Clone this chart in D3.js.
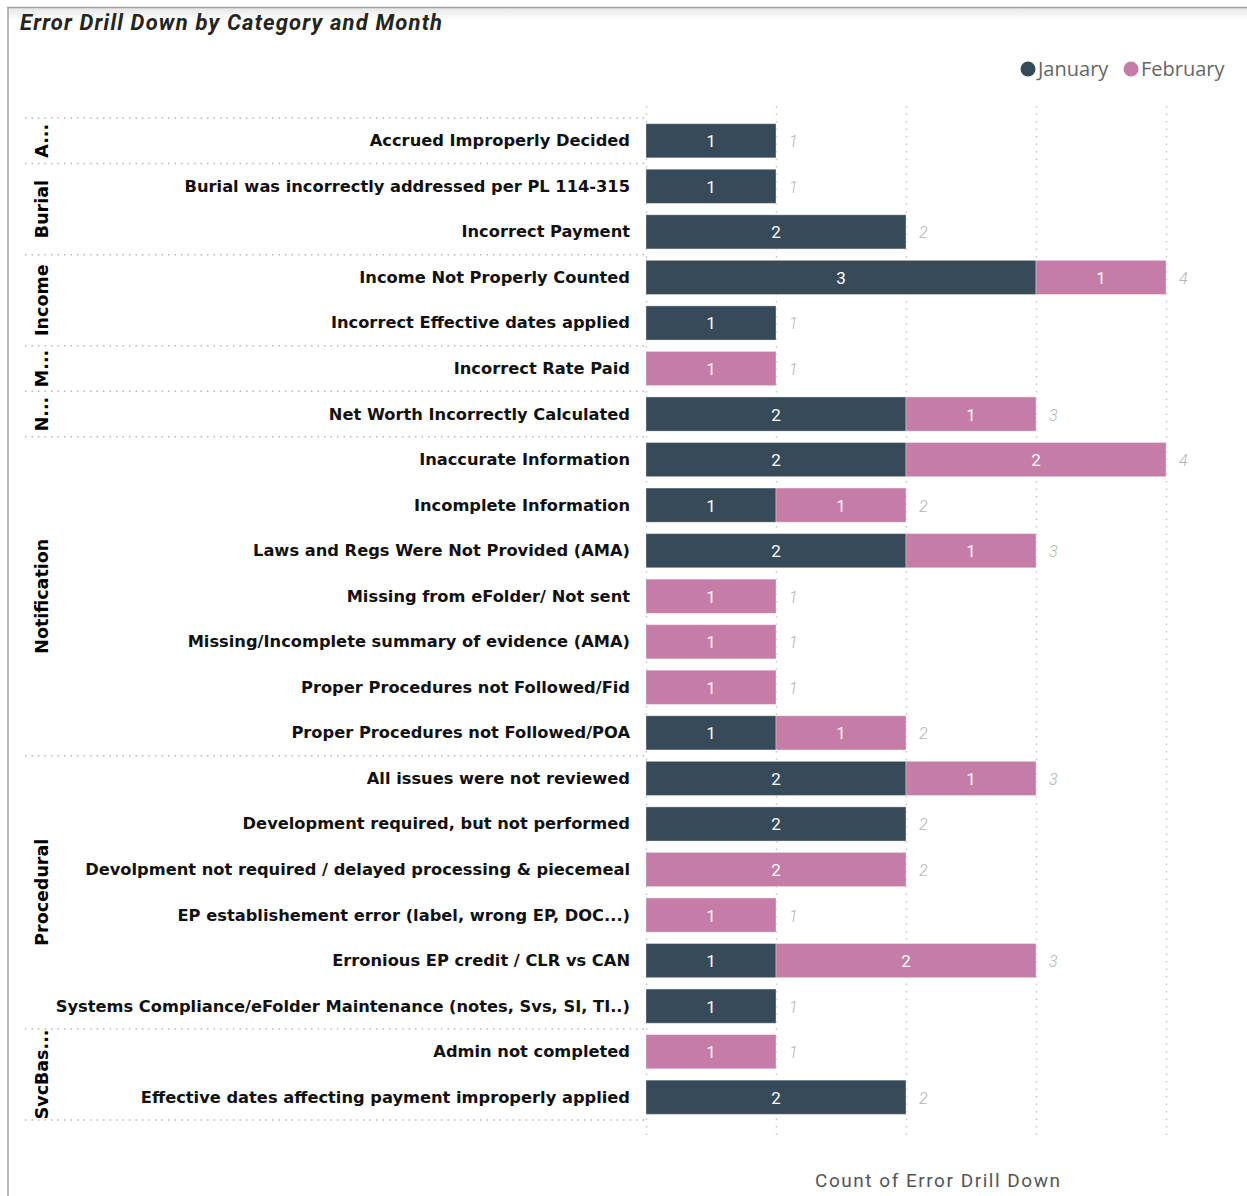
<!DOCTYPE html>
<html><head><meta charset="utf-8">
<script src="https://cdnjs.cloudflare.com/ajax/libs/d3/7.8.5/d3.min.js"></script>
<style>body{margin:0;background:#fff;} svg{display:block;}</style>
</head><body>
<script>
const categories = ["Accrued Improperly Decided","Burial was incorrectly addressed per PL 114-315","Incorrect Payment","Income Not Properly Counted","Incorrect Effective dates applied","Incorrect Rate Paid","Net Worth Incorrectly Calculated","Inaccurate Information","Incomplete Information","Laws and Regs Were Not Provided (AMA)","Missing from eFolder/ Not sent","Missing/Incomplete summary of evidence (AMA)","Proper Procedures not Followed/Fid","Proper Procedures not Followed/POA","All issues were not reviewed","Development required, but not performed","Devolpment not required / delayed processing & piecemeal","EP establishement error (label, wrong EP, DOC...)","Erronious EP credit / CLR vs CAN","Systems Compliance/eFolder Maintenance (notes, Svs, SI, TI..)","Admin not completed","Effective dates affecting payment improperly applied"];
const groups = ["A...","Burial","Burial","Income","Income","M...","N...","Notification","Notification","Notification","Notification","Notification","Notification","Notification","Procedural","Procedural","Procedural","Procedural","Procedural","Procedural","SvcBas...","SvcBas..."];
const january = [1,1,2,3,1,0,2,2,1,2,0,0,0,1,2,2,0,0,1,1,0,2];
const february = [0,0,0,1,0,1,1,2,1,1,1,1,1,1,1,0,2,1,2,0,1,0];
const seriesNames = ["January","February"];
const xTicks = [0,1,2,3,4];
const colors = {January:"#374A5A", February:"#C57CA6"};

const W=1247,H=1196;
const svg=d3.select("body").append("svg").attr("width",W).attr("height",H);

// frame
const defs=svg.append("defs");
const lg=defs.append("linearGradient").attr("id","sh").attr("x1",0).attr("x2",0).attr("y1",0).attr("y2",1);
lg.append("stop").attr("offset","0").attr("stop-color","#e6e6e6");
lg.append("stop").attr("offset","1").attr("stop-color","#fff");
svg.append("rect").attr("x",8).attr("y",8).attr("width",W-8).attr("height",12).attr("fill","url(#sh)");
svg.append("line").attr("x1",7).attr("x2",W).attr("y1",7.5).attr("y2",7.5).attr("stroke","#a0a0a0").attr("stroke-width",1.5);
svg.append("line").attr("x1",8).attr("x2",8).attr("y1",7).attr("y2",H).attr("stroke","#a0a0a0").attr("stroke-width",1.5);

svg.append("text").attr("x",20).attr("y",30).text("Error Drill Down by Category and Month")
  .attr("font-family","Roboto").attr("font-style","italic").attr("font-weight","bold").attr("font-size",22)
  .attr("textLength",422).attr("lengthAdjust","spacing").attr("fill","#252423");

// legend
const leg=[{n:"January",cx:1028},{n:"February",cx:1131}];
leg.forEach(l=>{
  svg.append("circle").attr("cx",l.cx).attr("cy",69).attr("r",7.5).attr("fill",colors[l.n]);
  svg.append("text").attr("x",l.cx+10).attr("y",76).text(l.n).attr("font-family","Open Sans").attr("font-size",20).attr("fill","#666");
});

const x=d3.scaleLinear().domain([0,4]).range([646,1166]);
const y=d3.scaleBand().domain(categories).range([118,1120]).paddingInner(0.25).paddingOuter(0.125);
const step=y.step();

// grid
const g=svg.append("g");
g.selectAll("line.grid").data(xTicks).join("line").attr("class","grid")
  .attr("x1",d=>x(d)+0.5).attr("x2",d=>x(d)+0.5).attr("y1",106).attr("y2",1136)
  .attr("stroke","#c8c8c8").attr("stroke-width",1.5).attr("stroke-dasharray","1.5,6");

// group separators
const gList=[];
groups.forEach((gr,i)=>{ if(!gList.length||gList[gList.length-1].name!==gr) gList.push({name:gr,start:i,end:i}); else gList[gList.length-1].end=i; });
const sepYs=[118].concat(gList.map(gr=>118+(gr.end+1)*step));
g.selectAll("line.sep").data(sepYs).join("line").attr("class","sep")
  .attr("x1",25).attr("x2",645).attr("y1",d=>d).attr("y2",d=>d)
  .attr("stroke","#b8b8b8").attr("stroke-width",1.5).attr("stroke-dasharray","1.5,5");

// group labels
const grp=g.selectAll("text.grp").data(gList).join("text").attr("class","grp")
  .attr("transform",d=>`translate(48,${118+(d.start+d.end+1)/2*step}) rotate(-90)`)
  .attr("text-anchor","middle").text(d=>d.name)
  .attr("font-family","DejaVu Sans").attr("font-weight",700).attr("font-size",15).attr("fill","#000");
grp.filter(d=>d.name==="Notification").each(function(){
  const w=this.getComputedTextLength(); grp.attr("font-size",15*115/w);
});

// category labels
const cat=g.selectAll("text.cat").data(categories).join("text").attr("class","cat")
  .attr("x",630).attr("y",d=>y(d)+y.bandwidth()/2+5.5).attr("text-anchor","end").text(d=>d)
  .attr("font-family","DejaVu Sans").attr("font-weight",700).attr("font-size",15).attr("fill","#111");
let maxW=0;
cat.each(function(d){const w=this.getComputedTextLength(); if(w>maxW){maxW=w;}});
cat.attr("font-size",15*575/maxW);

// stacked bars
const rows=categories.map((c,i)=>({cat:c,January:january[i],February:february[i]}));
const stack=d3.stack().keys(seriesNames)(rows);
stack.forEach(s=>{
  const sg=g.append("g");
  sg.selectAll("rect").data(s.filter(d=>d[1]>d[0])).join("rect")
    .attr("x",d=>x(d[0])).attr("width",d=>x(d[1])-x(d[0]))
    .attr("y",d=>y(d.data.cat)).attr("height",y.bandwidth())
    .attr("fill",colors[s.key]).attr("stroke","#ffffff").attr("stroke-opacity",0.35).attr("stroke-width",1);
  sg.selectAll("text").data(s.filter(d=>d[1]>d[0])).join("text")
    .attr("x",d=>(x(d[0])+x(d[1]))/2).attr("y",d=>y(d.data.cat)+y.bandwidth()/2+6.5)
    .attr("text-anchor","middle").text(d=>d[1]-d[0])
    .attr("font-family","Roboto").attr("font-size",17).attr("fill","#fff");
});

// totals
g.selectAll("text.tot").data(rows).join("text").attr("class","tot")
  .attr("x",d=>x(d.January+d.February)+13).attr("y",d=>y(d.cat)+y.bandwidth()/2+6.5)
  .text(d=>d.January+d.February)
  .attr("font-family","Roboto").attr("font-style","italic").attr("font-weight",300).attr("font-size",16).attr("fill","#b3b3b3");

svg.append("text").attr("x",815).attr("y",1187).text("Count of Error Drill Down")
  .attr("font-family","Roboto").attr("font-size",19).attr("textLength",245).attr("lengthAdjust","spacing").attr("fill","#555");
</script>
</body></html>
